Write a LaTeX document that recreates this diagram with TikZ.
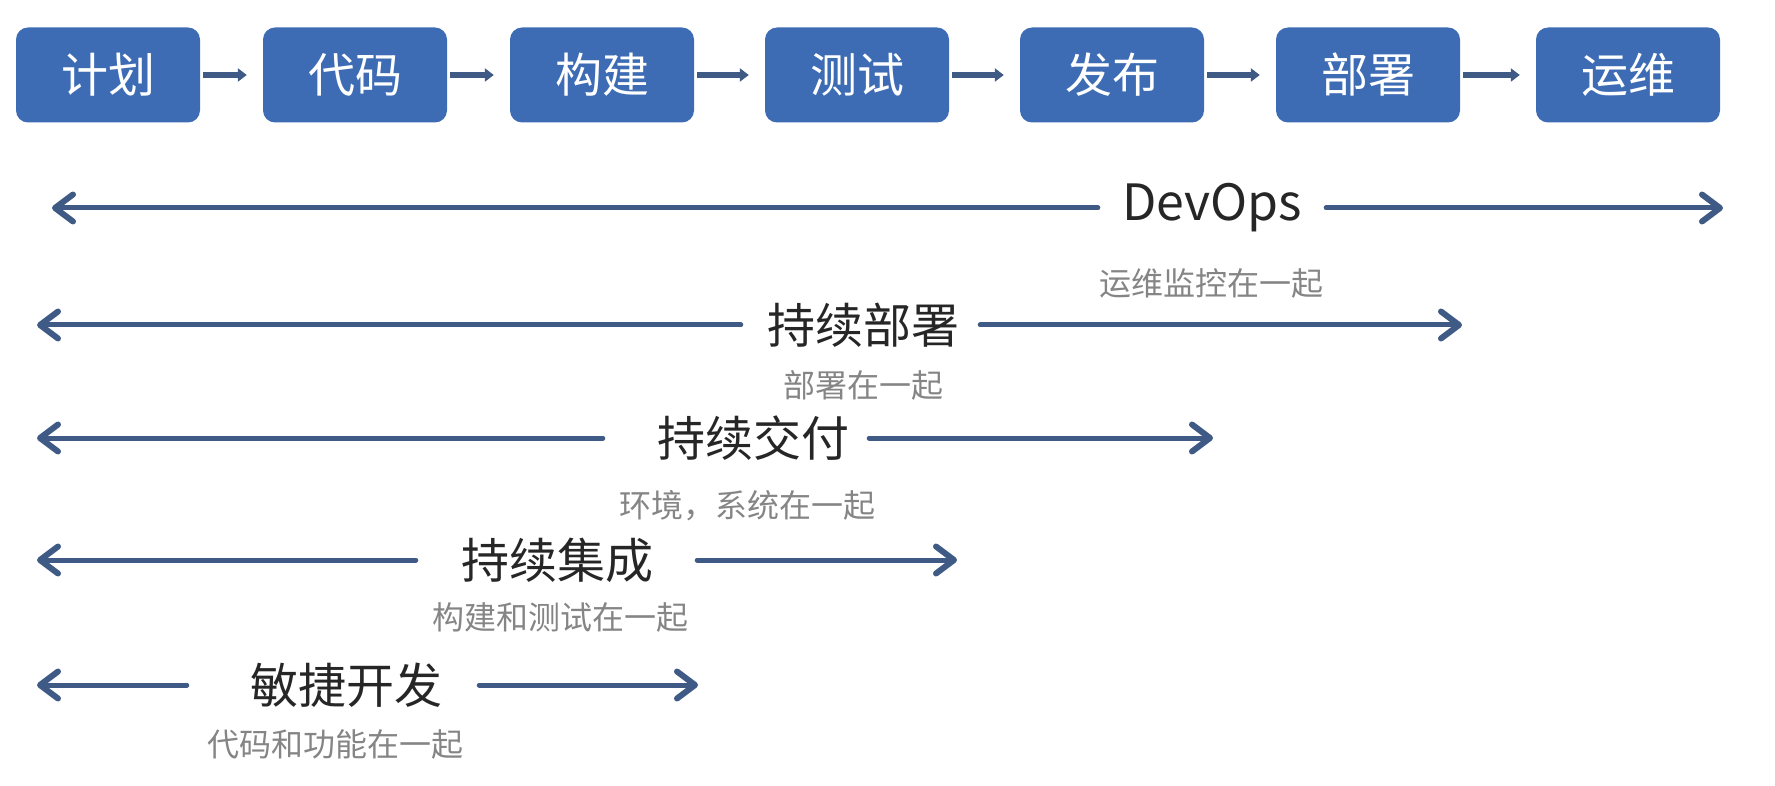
\documentclass[tikz,border=0pt]{standalone}
\usepackage{fontspec}
\setmainfont{Noto Sans CJK SC}
\usetikzlibrary{arrows.meta}
\definecolor{boxblue}{HTML}{3D6CB5}
\definecolor{arrowblue}{HTML}{3E5A85}
\definecolor{labelgray}{HTML}{262626}
\definecolor{subgray}{HTML}{858585}
\begin{document}
\begin{tikzpicture}[x=1pt,y=-1pt,
  stage/.style={fill=boxblue, rounded corners=12pt, minimum width=184pt, minimum height=95pt,
    text=white, font=\fontsize{47}{50}\selectfont, inner sep=0pt},
  flow/.style={draw=arrowblue, line width=6pt, -{Triangle[length=9pt,width=13pt]},
    shorten <=3pt, shorten >=16pt},
  level/.style={font=\fontsize{48}{52}\selectfont, text=labelgray, inner sep=0pt},
  note/.style={font=\fontsize{32}{36}\selectfont, text=subgray, inner sep=0pt},
  span/.style={draw=arrowblue, line width=5pt, line cap=round,
    -{Straight Barb[length=18pt,width=27pt,line width=6pt,round]}},
]
\useasboundingbox (0,0) rectangle (1775,786);

% stages
\node[stage] (s1) at (108,75) {计划};
\node[stage] (s2) at (355,75) {代码};
\node[stage] (s3) at (602,75) {构建};
\node[stage] (s4) at (857,75) {测试};
\node[stage] (s5) at (1112,75) {发布};
\node[stage] (s6) at (1368,75) {部署};
\node[stage] (s7) at (1628,75) {运维};
\foreach \a/\b in {s1/s2,s2/s3,s3/s4,s4/s5,s5/s6,s6/s7}
  \draw[flow] (\a) -- (\b);

% DevOps
\node[level, font=\fontsize{50}{54}\selectfont] (devops) at (1212,208) {DevOps};
\coordinate (devopsL) at (52,208);
\coordinate (devopsR) at (1723,208);
\draw[span, shorten <=24pt] (devops) -- (devopsL);
\draw[span, shorten <=24pt] (devops) -- (devopsR);
\node[note] (devopsN) at (1211,283) {运维监控在一起};

% 持续部署
\node[level] (cd) at (863,325) {持续部署};
\coordinate (cdL) at (37,325);
\coordinate (cdR) at (1462,325);
\draw[span, shorten <=26pt] (cd) -- (cdL);
\draw[span, shorten <=21pt] (cd) -- (cdR);
\node[note] (cdN) at (863,385) {部署在一起};

% 持续交付
\node[level] (cdl) at (753,438) {持续交付};
\coordinate (cdlL) at (37,438);
\coordinate (cdlR) at (1213,438);
\draw[span, shorten <=54pt] (cdl) -- (cdlL);
\draw[span, shorten <=20pt] (cdl) -- (cdlR);
\node[note] (cdlN) at (747,506) {环境，系统在一起};

% 持续集成
\node[level] (ci) at (557,560) {持续集成};
\coordinate (ciL) at (37,560);
\coordinate (ciR) at (957,560);
\draw[span, shorten <=45pt] (ci) -- (ciL);
\draw[span, shorten <=44pt] (ci) -- (ciR);
\node[note] (ciN) at (560,617) {构建和测试在一起};

% 敏捷开发
\node[level] (ag) at (346,685) {敏捷开发};
\coordinate (agL) at (37,685);
\coordinate (agR) at (698,685);
\draw[span, shorten <=63pt] (ag) -- (agL);
\draw[span, shorten <=37pt] (ag) -- (agR);
\node[note] (agN) at (335,744) {代码和功能在一起};
\end{tikzpicture}
\end{document}
